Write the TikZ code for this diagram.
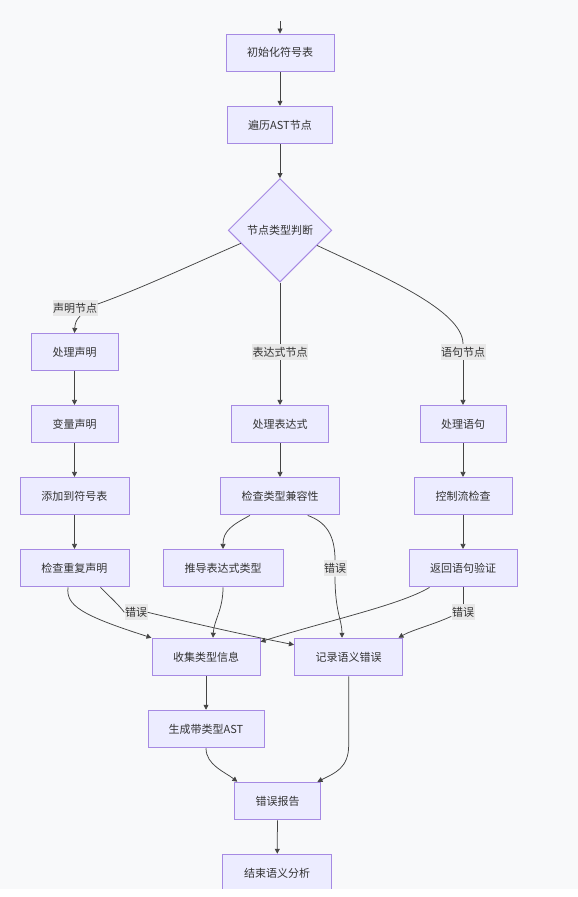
\documentclass[tikz,border=0pt]{standalone}
\usepackage{fontspec}
\setmainfont{Noto Sans CJK SC}
\usetikzlibrary{shapes.geometric,arrows.meta,calc}
\definecolor{bgc}{HTML}{F8F9FA}
\definecolor{nfill}{HTML}{ECECFF}
\definecolor{nline}{HTML}{A68AE3}
\definecolor{txt}{HTML}{333333}
\definecolor{linec}{HTML}{444444}
\definecolor{lblbg}{HTML}{E8E8E8}
\begin{document}
\begin{tikzpicture}[x=1pt,y=-1pt,
  tfont/.style={font=\fontsize{11}{13}\selectfont},
  box/.style={rectangle,draw=nline,fill=nfill,line width=1pt,minimum height=37.5pt,inner sep=0pt,text=txt,tfont},
  dec/.style={diamond,draw=nline,fill=nfill,line width=1pt,minimum width=103.5pt,minimum height=103.5pt,inner sep=0pt,aspect=1,text=txt,tfont},
  lbl/.style={rectangle,fill=lblbg,inner xsep=0.5pt,inner ysep=0pt,minimum height=16pt,text=txt,tfont},
  link/.style={draw=linec,line width=0.75pt},
  linkarr/.style={link,-{Triangle[length=5pt,width=5pt]}}]
\useasboundingbox (0,0) rectangle (578,897);
\fill[bgc] (0,0) rectangle (578,889.3);

% nodes
\node[box,minimum width=108pt] (n1) at (280,52.8) {初始化符号表};
\node[box,minimum width=104.5pt] (n2) at (280,125) {遍历AST节点};
\node[dec] (dia) at (280,230.3) {节点类型判断};

\node[box,minimum width=87pt] (decl) at (74.5,352.2) {处理声明};
\node[box,minimum width=87pt] (var) at (74.5,424.2) {变量声明};
\node[box,minimum width=109pt] (add) at (74.5,496.2) {添加到符号表};
\node[box,minimum width=109pt] (dup) at (74.5,568.2) {检查重复声明};

\node[box,minimum width=97.5pt] (expr) at (280,424.2) {处理表达式};
\node[box,minimum width=119.6pt] (compat) at (280,496.2) {检查类型兼容性};
\node[box,minimum width=120pt] (infer) at (223,568.2) {推导表达式类型};

\node[box,minimum width=86pt] (stmt) at (463,424.2) {处理语句};
\node[box,minimum width=98pt] (flow) at (463,496.2) {控制流检查};
\node[box,minimum width=108pt] (ret) at (463,568.2) {返回语句验证};

\node[box,minimum width=108pt] (collect) at (206,657) {收集类型信息};
\node[box,minimum width=108.5pt] (err) at (348.7,657) {记录语义错误};
\node[box,minimum width=116pt] (gen) at (206,729) {生成带类型AST};
\node[box,minimum width=86.3pt] (report) at (277.5,801) {错误报告};
\node[box,minimum width=109pt] (fin) at (277.2,873) {结束语义分析};

% labels
\node[lbl] (l1) at (75,308) {声明节点};
\node[lbl] (l2) at (280,352) {表达式节点};
\node[lbl] (l3) at (463,352) {语句节点};
\node[lbl] (l4) at (335,568.3) {错误};
\node[lbl] (l5) at (136,612.3) {错误};
\node[lbl] (l6) at (463,612.3) {错误};

% connectors
\coordinate (s0) at (280,21);
\draw[linkarr] (s0) -- (n1);
\draw[linkarr] (n1) -- (n2);
\draw[linkarr] (n2) -- (dia);

\draw[link] ($(dia.west)!0.25!(dia.south)$) .. controls (200,261) and (140,289) .. ($(l1.east)+(0,-4)$);
\draw[linkarr] ($(l1.south)+(5,0)$) .. controls (76,320) and (75,324) .. (decl.north);

\draw[link] (dia.south) -- (l2.north);
\draw[linkarr] (l2.south) -- (expr.north);

\draw[link] ($(dia.east)!0.29!(dia.south)$) .. controls (380,275) and (463,310) .. (l3.north);
\draw[linkarr] (l3.south) -- (stmt.north);

\draw[linkarr] (decl) -- (var);
\draw[linkarr] (var) -- (add);
\draw[linkarr] (add) -- (dup);
\draw[linkarr] (expr) -- (compat);
\draw[linkarr] (stmt) -- (flow);
\draw[linkarr] (flow) -- (ret);
\draw[linkarr] (collect) -- (gen);
\draw[linkarr] (report) -- (fin);

\draw[linkarr] ($(compat.south west)!0.25!(compat.south east)$) .. controls (232,525) and (223,531) .. (infer.north);

\draw[link] ($(compat.south west)!0.73!(compat.south east)$) .. controls (326,522) and (335,535) .. (l4.north);
\draw[linkarr] (l4.south) .. controls (335,612) and (342,620) .. ($(err.north)+(-6.7,0)$);

\draw[linkarr] ($(dup.south)+(-6.5,0)$) .. controls (66,605) and (80,615) .. (collect.north west);

\draw[link] ($(dup.south)+(26,0)$) .. controls (110,597) and (118,604) .. (l5.west);
\draw[linkarr] (l5.east) .. controls (200,625) and (250,636) .. ($(err.north west)+(0,7)$);

\draw[linkarr] (infer.south) .. controls (223,610) and (214,620) .. ($(collect.north)+(7,0)$);

\draw[linkarr] ($(ret.south west)+(21,0)$) .. controls (400,605) and (330,620) .. ($(collect.north east)+(0,4)$);

\draw[link] (ret.south) -- (l6.north);
\draw[linkarr] ($(l6.west)+(0,4)$) .. controls (435,624) and (412,630) .. ($(err.north east)+(-5,0)$);

\draw[linkarr] (gen.south) .. controls (206,765) and (225,772) .. ($(report.north west)+(3.5,0)$);

\draw[linkarr] (err.south) -- (348.7,745) .. controls (348.7,768) and (335,773) .. ($(report.north east)+(-3.7,0)$);

\fill[white] (0,889.3) rectangle (578,897);
\end{tikzpicture}
\end{document}
